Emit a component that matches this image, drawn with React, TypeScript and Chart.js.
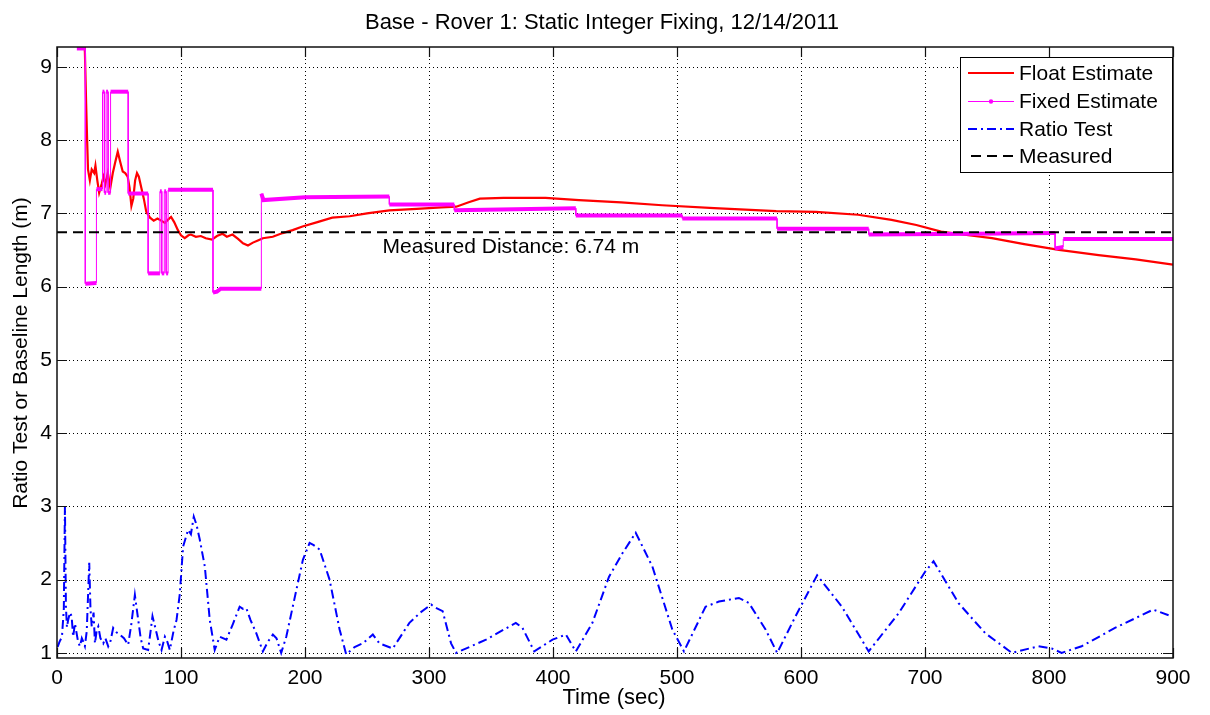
import React, { useEffect, useRef } from 'react';
import { Chart, registerables } from 'chart.js';

Chart.register(...registerables);

const FONT = '"Liberation Sans", Arial, Helvetica, sans-serif';

const titleText = 'Base - Rover 1: Static Integer Fixing, 12/14/2011';
const xLabel = 'Time (sec)';
const yLabel = 'Ratio Test or Baseline Length (m)';
const annotationText = 'Measured Distance: 6.74 m';
const legendLabels = ['Float Estimate', 'Fixed Estimate', 'Ratio Test', 'Measured'];

const xTicks = [0, 100, 200, 300, 400, 500, 600, 700, 800, 900];
const yTicks = [1, 2, 3, 4, 5, 6, 7, 8, 9];

const measuredDistance = 6.74;
const measuredT = [0, 900];

const floatT = [21.5, 22.5, 23.5, 24.3, 25, 26.5, 28, 30, 31, 32.5, 34, 36, 37.5, 39, 41, 43, 45, 47, 49, 51, 53, 55, 57, 58.5, 60, 61.5, 63, 64.5, 66, 68, 70, 72, 75, 78, 81, 84, 87, 90, 92, 94.5, 97.5, 100, 103, 106, 108, 112, 116, 120, 125, 129, 133.5, 137, 141.5, 146, 150, 154, 158, 162, 166, 174, 182, 190, 198, 210, 222, 236, 250, 268, 290, 310, 322, 332, 341, 360, 394, 421, 455, 488, 530, 580, 612, 646, 673, 693, 713, 735, 754, 780, 808, 840, 870, 900];
const floatV = [9.6, 9.2, 8.5, 8.0, 7.6, 7.45, 7.6, 7.55, 7.65, 7.45, 7.28, 7.4, 7.5, 7.4, 7.55, 7.35, 7.55, 7.7, 7.84, 7.7, 7.57, 7.55, 7.5, 7.35, 7.1, 7.2, 7.45, 7.55, 7.5, 7.35, 7.2, 7.02, 6.94, 6.9, 6.93, 6.9, 6.87, 6.92, 6.95, 6.88, 6.77, 6.7, 6.66, 6.7, 6.71, 6.68, 6.69, 6.66, 6.64, 6.69, 6.72, 6.68, 6.71, 6.65, 6.59, 6.56, 6.6, 6.63, 6.66, 6.68, 6.73, 6.77, 6.82, 6.88, 6.94, 6.96, 7.0, 7.04, 7.06, 7.08, 7.09, 7.15, 7.2, 7.21, 7.21, 7.18, 7.15, 7.11, 7.07, 7.03, 7.02, 6.98, 6.91, 6.84, 6.75, 6.7, 6.66, 6.58, 6.5, 6.43, 6.37, 6.3];

const fixedT = [16, 22.8, 22.8, 31.8, 31.8, 36.7, 36.7, 38.2, 38.2, 39.6, 39.6, 41.2, 41.2, 43.2, 43.2, 57.4, 57.4, 73.5, 73.5, 83, 83, 84.5, 84.5, 86.5, 86.5, 88, 88, 89.6, 89.6, 125.8, 125.8, 129, 132, 164.8, 164.8, 166.5, 200, 268, 268, 320.4, 320.4, 418.4, 418.4, 504.3, 504.3, 580.7, 580.7, 654.6, 654.6, 740, 804.9, 804.9, 811.5, 811.5, 900];
const fixedV = [9.25, 9.25, 6.04, 6.05, 7.33, 7.33, 8.66, 8.66, 7.28, 7.28, 8.66, 8.66, 7.28, 7.28, 8.66, 8.66, 7.27, 7.27, 6.18, 6.18, 7.3, 7.3, 6.18, 6.18, 7.3, 7.3, 6.18, 6.18, 7.32, 7.32, 5.92, 5.93, 5.97, 5.97, 7.27, 7.18, 7.22, 7.23, 7.12, 7.12, 7.04, 7.07, 6.97, 6.97, 6.93, 6.93, 6.79, 6.79, 6.71, 6.72, 6.73, 6.52, 6.54, 6.65, 6.65];

const ratioT = [0.5, 2, 4, 5.5, 6.4, 7.2, 8, 9, 10.5, 11.8, 13, 14.5, 15.8, 17, 18.5, 20, 21, 22.5, 24, 26, 27, 28, 29.5, 30.6, 32, 33.3, 35, 37.3, 39, 41.3, 43, 45.3, 48, 50.7, 54, 57.4, 60, 62.8, 65.5, 67.5, 69.5, 73.5, 75.5, 77, 80.3, 82, 84.3, 87, 89, 91, 94, 96.4, 99, 101.7, 105.7, 108, 110.3, 112.5, 115.1, 119.2, 123.2, 127.2, 131.2, 136.6, 142, 147.3, 150, 152.7, 156, 160.7, 166, 170, 174.1, 177, 180.8, 184.9, 191, 198.3, 203.7, 207, 211.8, 219.8, 227.9, 233.2, 240, 246.6, 254.7, 260, 270.8, 284.2, 293, 301.7, 305, 311, 317.8, 321.8, 346, 370, 375.4, 384.9, 399.6, 410.4, 418.4, 431.8, 445.2, 456, 466.7, 480.1, 496.2, 505.6, 523, 533.8, 549.9, 558, 571.4, 580.8, 595.6, 613, 633, 654.6, 678.7, 700.2, 706.9, 727, 748.5, 770, 791.5, 802.2, 810.2, 826.3, 853.2, 884, 898.8];
const ratioV = [1.08, 1.15, 1.22, 1.6, 3.0, 1.63, 1.35, 1.45, 1.55, 1.5, 1.22, 1.4, 1.27, 1.15, 1.09, 1.2, 1.16, 1.09, 1.3, 2.23, 1.6, 1.36, 1.55, 1.13, 1.3, 1.36, 1.2, 1.13, 1.2, 1.09, 1.15, 1.34, 1.28, 1.25, 1.2, 1.11, 1.4, 1.79, 1.45, 1.2, 1.06, 1.04, 1.3, 1.5, 1.27, 1.15, 1.04, 1.22, 1.15, 1.04, 1.3, 1.45, 1.8, 2.45, 2.68, 2.62, 2.86, 2.75, 2.55, 2.18, 1.45, 1.04, 1.22, 1.18, 1.4, 1.63, 1.6, 1.61, 1.45, 1.27, 1.02, 1.15, 1.25, 1.2, 1.0, 1.22, 1.7, 2.27, 2.5, 2.47, 2.41, 2.0, 1.32, 0.98, 1.08, 1.13, 1.25, 1.13, 1.06, 1.41, 1.55, 1.66, 1.62, 1.57, 1.13, 1.0, 1.18, 1.41, 1.34, 1.02, 1.18, 1.25, 1.02, 1.41, 2.04, 2.36, 2.64, 2.18, 1.32, 1.02, 1.63, 1.7, 1.75, 1.68, 1.32, 1.0, 1.5, 2.06, 1.63, 1.02, 1.54, 2.11, 2.25, 1.68, 1.27, 1.0, 1.09, 1.06, 1.0, 1.09, 1.34, 1.59, 1.5];

const RED = '#ff0000';
const MAGENTA = '#ff00ff';
const BLUE = '#0000ff';
const BLACK = '#000000';
const RATIO_DASH = [9, 4, 2, 4];
const MEASURED_DASH = [10, 6];

const toPoints = (ts: number[], vs: number[]) => ts.map((t, i) => ({ x: t, y: vs[i] }));

const framePlugin = {
  id: 'matlabFrame',
  beforeDatasetsDraw(chart: any) {
    const { ctx, chartArea: a, scales } = chart;
    const xs = scales.x;
    const ys = scales.y;
    ctx.save();
    ctx.strokeStyle = BLACK;
    ctx.lineWidth = 1;
    ctx.setLineDash([1, 3]);
    ctx.beginPath();
    for (const t of xTicks) {
      if (t <= xTicks[0] || t >= xTicks[xTicks.length - 1]) continue;
      const px = Math.round(xs.getPixelForValue(t)) + 0.5;
      ctx.moveTo(px, a.top);
      ctx.lineTo(px, a.bottom);
    }
    for (const v of yTicks) {
      const py = Math.round(ys.getPixelForValue(v)) + 0.5;
      ctx.moveTo(a.left, py);
      ctx.lineTo(a.right, py);
    }
    ctx.stroke();
    ctx.restore();
  },
  afterDatasetsDraw(chart: any) {
    const { ctx, chartArea: a, scales } = chart;
    const xs = scales.x;
    const ys = scales.y;
    ctx.save();
    // box
    ctx.setLineDash([]);
    ctx.strokeStyle = '#111';
    ctx.lineWidth = 1.5;
    ctx.strokeRect(a.left, a.top, a.right - a.left, a.bottom - a.top);
    // inward ticks
    const tl = 10;
    ctx.lineWidth = 1.2;
    ctx.beginPath();
    for (const t of xTicks) {
      const px = Math.round(xs.getPixelForValue(t)) + 0.5;
      ctx.moveTo(px, a.bottom);
      ctx.lineTo(px, a.bottom - tl);
      ctx.moveTo(px, a.top);
      ctx.lineTo(px, a.top + tl);
    }
    for (const v of yTicks) {
      const py = Math.round(ys.getPixelForValue(v)) + 0.5;
      ctx.moveTo(a.left, py);
      ctx.lineTo(a.left + tl, py);
      ctx.moveTo(a.right, py);
      ctx.lineTo(a.right - tl, py);
    }
    ctx.stroke();

    // annotation
    ctx.fillStyle = BLACK;
    ctx.font = `21px ${FONT}`;
    ctx.textAlign = 'left';
    ctx.textBaseline = 'middle';
    ctx.fillText(annotationText, xs.getPixelForValue(262.5), ys.getPixelForValue(6.54));

    // legend
    const lx = 960, ly = 57, lw = 212, lh = 115;
    ctx.fillStyle = '#ffffff';
    ctx.fillRect(lx, ly, lw, lh);
    ctx.strokeStyle = BLACK;
    ctx.lineWidth = 1;
    ctx.strokeRect(lx + 0.5, ly + 0.5, lw, lh);
    const rows = [73, 101, 129, 156];
    const x0 = 968, x1 = 1014;
    // float
    ctx.strokeStyle = RED; ctx.lineWidth = 2; ctx.setLineDash([]);
    ctx.beginPath(); ctx.moveTo(x0, rows[0]); ctx.lineTo(x1, rows[0]); ctx.stroke();
    // fixed
    ctx.strokeStyle = MAGENTA; ctx.lineWidth = 1;
    ctx.beginPath(); ctx.moveTo(x0, rows[1] + 0.5); ctx.lineTo(x1, rows[1] + 0.5); ctx.stroke();
    ctx.fillStyle = MAGENTA;
    ctx.beginPath(); ctx.arc((x0 + x1) / 2, rows[1] + 0.5, 2.2, 0, Math.PI * 2); ctx.fill();
    // ratio
    ctx.strokeStyle = BLUE; ctx.lineWidth = 2; ctx.setLineDash(RATIO_DASH);
    ctx.beginPath(); ctx.moveTo(x0, rows[2]); ctx.lineTo(x1, rows[2]); ctx.stroke();
    // measured
    ctx.strokeStyle = BLACK; ctx.lineWidth = 2; ctx.setLineDash([10, 6]);
    ctx.beginPath(); ctx.moveTo(x0 + 3, rows[3]); ctx.lineTo(x1, rows[3]); ctx.stroke();
    ctx.setLineDash([]);
    ctx.fillStyle = BLACK;
    ctx.font = `21px ${FONT}`;
    ctx.textAlign = 'left';
    ctx.textBaseline = 'middle';
    legendLabels.forEach((lab, i) => ctx.fillText(lab, 1019, rows[i] + 1));
    ctx.restore();
  },
  afterDraw(chart: any) {
    const { ctx } = chart;
    ctx.save();
    ctx.fillStyle = BLACK;
    ctx.textAlign = 'center';
    ctx.textBaseline = 'middle';
    ctx.font = `22px ${FONT}`;
    ctx.fillText(titleText, 602, 23);
    ctx.font = `22px ${FONT}`;
    ctx.fillText(xLabel, 614, 698);
    ctx.translate(21, 353);
    ctx.rotate(-Math.PI / 2);
    ctx.font = `21px ${FONT}`;
    ctx.fillText(yLabel, 0, 0);
    ctx.restore();
  },
};

export default function App() {
  const ref = useRef<HTMLCanvasElement>(null);
  useEffect(() => {
    if (!ref.current) return;
    const chart = new Chart(ref.current, {
      type: 'line',
      data: {
        datasets: [
          {
            label: legendLabels[3],
            data: toPoints(measuredT, [measuredDistance, measuredDistance]),
            borderColor: BLACK,
            borderWidth: 2,
            borderDash: MEASURED_DASH,
            pointRadius: 0,
            order: 0,
          },
          {
            label: legendLabels[2],
            data: toPoints(ratioT, ratioV),
            borderColor: BLUE,
            borderWidth: 2,
            borderDash: RATIO_DASH,
            pointRadius: 0,
            tension: 0,
            order: 1,
          },
          {
            label: legendLabels[1],
            data: toPoints(fixedT, fixedV),
            borderColor: MAGENTA,
            borderWidth: 4,
            pointRadius: 0,
            tension: 0,
            order: 2,
            segment: {
              borderWidth: (c: any) => (Math.abs(c.p1.parsed.x - c.p0.parsed.x) < 0.01 ? 1 : 4),
            },
          },
          {
            label: legendLabels[0],
            data: toPoints(floatT, floatV),
            borderColor: RED,
            borderWidth: 2.2,
            pointRadius: 0,
            tension: 0,
            order: 3,
          },
        ],
      } as any,
      options: {
        animation: false,
        responsive: false,
        maintainAspectRatio: false,
        events: [],
        layout: { padding: { left: 0, right: 37, top: 47, bottom: 0 } },
        plugins: {
          legend: { display: false },
          tooltip: { enabled: false },
          title: { display: false },
        },
        scales: {
          x: {
            type: 'linear',
            min: 0,
            max: 900,
            grid: { display: false, drawTicks: false },
            border: { display: false },
            ticks: { color: BLACK, font: { family: FONT, size: 21 }, padding: 8, maxRotation: 0, autoSkip: false },
            afterBuildTicks: (s: any) => { s.ticks = xTicks.map((v) => ({ value: v })); },
            afterFit: (s: any) => { s.height = 57; },
          },
          y: {
            type: 'linear',
            min: 0.93,
            max: 9.27,
            grid: { display: false, drawTicks: false },
            border: { display: false },
            ticks: { color: BLACK, font: { family: FONT, size: 21 }, padding: 5, autoSkip: false },
            afterBuildTicks: (s: any) => { s.ticks = yTicks.map((v) => ({ value: v })); },
            afterFit: (s: any) => { s.width = 57; },
          },
        },
      } as any,
      plugins: [framePlugin],
    });
    return () => chart.destroy();
  }, []);
  return (
    <div style={{ position: 'fixed', left: 0, top: 0, width: 1210, height: 715, background: '#fff' }}>
      <canvas ref={ref} width={1210} height={715} style={{ display: 'block' }} />
    </div>
  );
}
